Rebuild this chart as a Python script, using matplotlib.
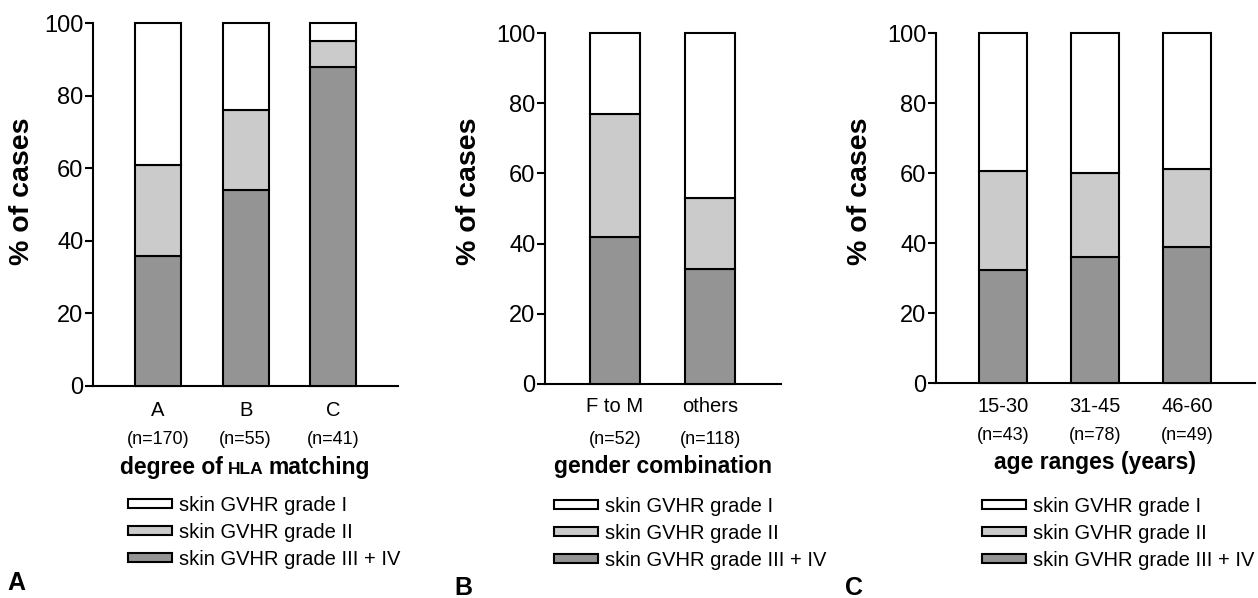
import matplotlib
matplotlib.use("Agg")
import matplotlib.pyplot as plt
from matplotlib.patches import Patch
from matplotlib.transforms import blended_transform_factory

plt.rcParams['font.family'] = ['Liberation Sans', 'DejaVu Sans']

# ---- data (% of cases) ----
grades = ["skin GVHR grade I", "skin GVHR grade II", "skin GVHR grade III + IV"]

hla_cats = ["A", "B", "C"]
hla_n = ["(n=170)", "(n=55)", "(n=41)"]
hla_g34 = [35.8, 54.0, 88.0]
hla_g2 = [25.1, 21.9, 7.0]
hla_g1 = [39.1, 24.1, 5.0]

sex_cats = ["F to M", "others"]
sex_n = ["(n=52)", "(n=118)"]
sex_g34 = [41.9, 32.8]
sex_g2 = [35.1, 20.1]
sex_g1 = [23.0, 47.1]

age_cats = ["15-30", "31-45", "46-60"]
age_n = ["(n=43)", "(n=78)", "(n=49)"]
age_g34 = [32.4, 35.9, 39.0]
age_g2 = [28.2, 24.2, 22.1]
age_g1 = [39.4, 39.9, 38.9]

colors = ["white", "#cbcbcb", "#949494"]

W, H = 1258, 598
fig = plt.figure(figsize=(W / 100, H / 100), dpi=100)


def px_axes(x0, x1, ytop, ybot):
    return fig.add_axes([x0 / W, 1 - ybot / H, (x1 - x0) / W, (ybot - ytop) / H])


panels = [
    dict(box=(93, 398, 23, 386), xlim=(-0.741, 2.737), cats=hla_cats, n=hla_n,
         series=(hla_g34, hla_g2, hla_g1), cat_y=410, n_y=440, title_y=468,
         leg=(128, 496), ylab_x=22, letter="A", letter_xy=(7, 583)),
    dict(box=(545, 781, 33, 384), xlim=(-0.735, 1.742), cats=sex_cats, n=sex_n,
         series=(sex_g34, sex_g2, sex_g1), cat_y=407, n_y=440, title_y=467,
         leg=(554, 497), ylab_x=469, letter="B", letter_xy=(454, 588)),
    dict(box=(936, 1255, 33, 383), xlim=(-0.732, 2.743), cats=age_cats, n=age_n,
         series=(age_g34, age_g2, age_g1), cat_y=407, n_y=435, title_y=462,
         leg=(982, 497), ylab_x=860, letter="C", letter_xy=(845, 588)),
]

renderer = fig.canvas.get_renderer()

for i, p in enumerate(panels):
    x0, x1, ytop, ybot = p["box"]
    ax = px_axes(x0, x1, ytop, ybot)
    g34, g2, g1 = p["series"]
    xs = list(range(len(p["cats"])))
    bw = 0.525
    ax.bar(xs, g34, bw, color=colors[2], edgecolor="black", lw=1.5, clip_on=False, zorder=3)
    bot = list(g34)
    ax.bar(xs, g2, bw, bottom=bot, color=colors[1], edgecolor="black", lw=1.5, clip_on=False, zorder=3)
    bot = [a + b for a, b in zip(g34, g2)]
    ax.bar(xs, g1, bw, bottom=bot, color=colors[0], edgecolor="black", lw=1.5, clip_on=False, zorder=3)

    ax.set_xlim(*p["xlim"])
    ax.set_ylim(0, 100)
    ax.set_yticks([0, 20, 40, 60, 80, 100])
    ax.tick_params(axis="y", direction="out", length=6, width=1.5, labelsize=17, pad=1)
    ax.set_xticks([])
    for s in ["top", "right"]:
        ax.spines[s].set_visible(False)
    for s in ["left", "bottom"]:
        ax.spines[s].set_linewidth(1.5)

    tr = blended_transform_factory(ax.transData, fig.transFigure)
    for x, c, n in zip(xs, p["cats"], p["n"]):
        ax.text(x, 1 - p["cat_y"] / H, c, transform=tr, ha="center", va="center", fontsize=14.5)
        ax.text(x, 1 - p["n_y"] / H, n, transform=tr, ha="center", va="center", fontsize=13)

    # axis title, centred under the axes
    cx = (x0 + x1) / 2 / W
    ty = 1 - p["title_y"] / H
    if i == 0:
        # "HLA" is set in smaller capitals, on the same baseline
        by = 1 - (p["title_y"] + 6) / H
        parts = [("degree of", 16.5), ("HLA", 12.5), ("matching", 16.5)]
        ts = [fig.text(0, by, s, fontsize=fs, fontweight="bold", va="baseline") for s, fs in parts]
        ws = [t.get_window_extent(renderer).width for t in ts]
        gap = 5.0
        total = sum(ws) + gap * (len(ws) - 1)
        start = (x0 + x1) / 2 - total / 2
        for t, w in zip(ts, ws):
            t.set_x(start / W)
            start += w + gap
    else:
        title = "gender combination" if i == 1 else "age ranges (years)"
        fig.text(cx, ty, title, fontsize=16.5, fontweight="bold", ha="center", va="center")

    fig.text(p["ylab_x"] / W, 1 - 191 / H, "% of cases", rotation=90, fontsize=20.5,
             fontweight="bold", ha="center", va="center")

    handles = [Patch(facecolor=c, edgecolor="black", lw=1.5) for c in colors]
    lx, ly = p["leg"]
    ax.legend(handles, grades, loc="upper left", bbox_to_anchor=(lx / W, 1 - ly / H),
              bbox_transform=fig.transFigure, frameon=False, borderpad=0, borderaxespad=0,
              fontsize=14.5, handlelength=2.2, handleheight=0.3, handletextpad=0.35,
              labelspacing=0.4)

    lxp, lyp = p["letter_xy"]
    fig.text(lxp / W, 1 - lyp / H, p["letter"], fontsize=18, fontweight="bold", va="center")

fig.savefig("out.png", dpi=100)
